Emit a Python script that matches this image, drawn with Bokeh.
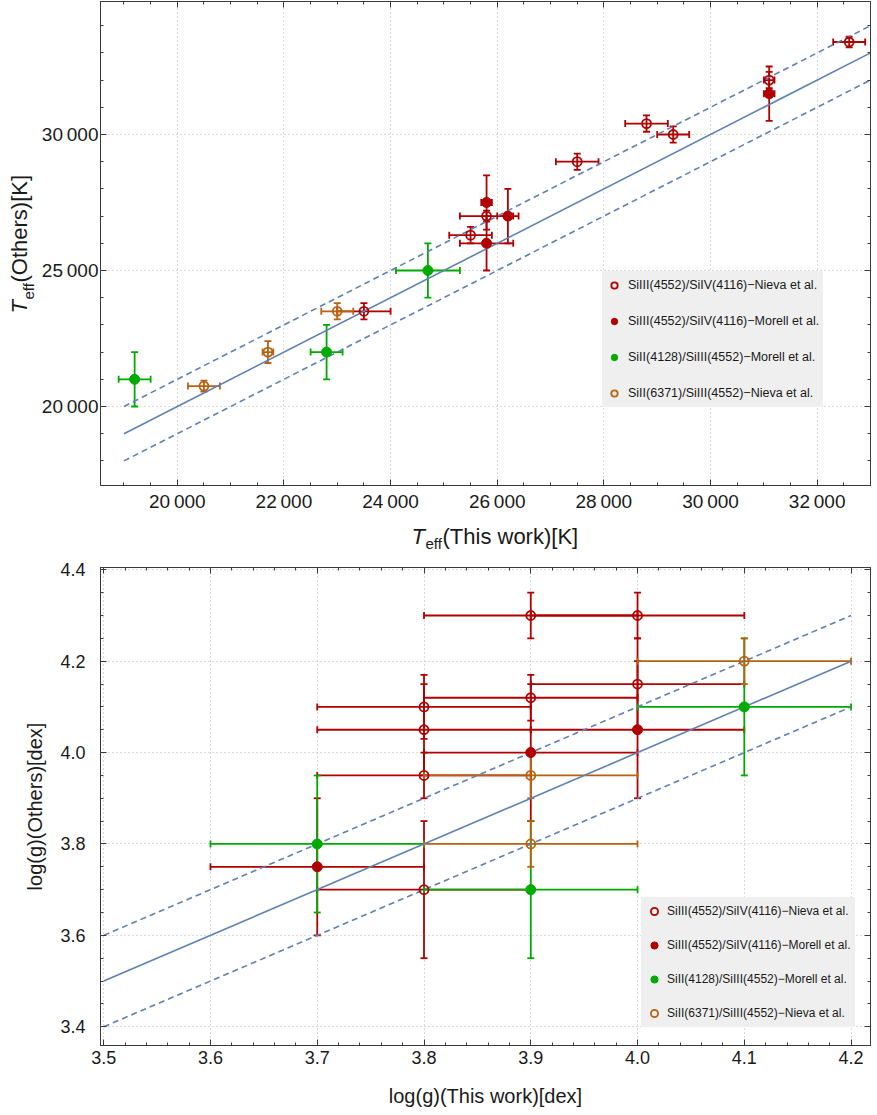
import numpy as np
from bokeh.plotting import figure
from bokeh.models import (Range1d, FixedTicker, LinearAxis, Whisker, TeeHead,
                          ColumnDataSource, Legend, LegendItem, CustomLabelingPolicy)
from bokeh.layouts import column, row
from bokeh.core.properties import value
from bokeh.embed import file_html
from bokeh.resources import INLINE

FONT = "Liberation Sans"

# ---------------- series labels & colours ----------------
series_labels = ["SiIII(4552)/SiIV(4116)\u2212Nieva et al.",
                 "SiIII(4552)/SiIV(4116)\u2212Morell et al.",
                 "SiII(4128)/SiIII(4552)\u2212Morell et al.",
                 "SiII(6371)/SiIII(4552)\u2212Nieva et al."]
series_colors = ["#b00000", "#b00000", "#00aa00", "#b8620f"]
series_open = [True, False, False, True]

# ---------------- top panel: Teff ----------------
teff_x = [
    [23500, 25500, 25800, 27500, 28800, 29300, 31100, 32600],
    [25800, 25800, 26200, 31100],
    [19200, 22800, 24700],
    [20500, 21700, 23000],
]
teff_xerr = [
    [500, 400, 500, 400, 400, 300, 100, 300],
    [500, 100, 200, 100],
    [300, 300, 600],
    [300, 100, 300],
]
teff_y = [
    [23500, 26300, 27000, 29000, 30400, 30000, 32000, 33400],
    [26000, 27500, 27000, 31500],
    [21000, 22000, 25000],
    [20750, 22000, 23500],
]
teff_yerr = [
    [300, 300, 200, 300, 300, 300, 300, 200],
    [1000, 1000, 1000, 1000],
    [1000, 1000, 1000],
    [200, 400, 300],
]
teff_diag_x = [19000, 33000]
teff_band = 1000

teff_xticks = [20000, 22000, 24000, 26000, 28000, 30000, 32000]
teff_xlabels = ["20\u2009000", "22\u2009000", "24\u2009000", "26\u2009000",
                "28\u2009000", "30\u2009000", "32\u2009000"]
teff_yticks = [20000, 25000, 30000]
teff_ylabels = ["20\u2009000", "25\u2009000", "30\u2009000"]
teff_xminor = list(range(18500, 33001, 500))
teff_yminor = list(range(18000, 34001, 1000))

# axis titles of the top panel: T_eff(This work)[K] and T_eff(Others)[K]
teff_title_main = "T"
teff_title_sub = "eff"
teff_xtitle_rest = "(This work)[K]"
teff_ytitle_rest = "(Others)[K]"

# ---------------- bottom panel: log g ----------------
logg_x = [
    [3.8, 3.8, 3.8, 3.8, 3.9, 3.9, 4.0, 4.0],
    [3.7, 3.9, 4.0],
    [3.7, 3.9, 4.1],
    [3.9, 3.9, 4.1],
]
logg_xerr = [
    [0.1, 0.1, 0.1, 0.1, 0.1, 0.1, 0.1, 0.1],
    [0.1, 0.1, 0.1],
    [0.1, 0.1, 0.1],
    [0.1, 0.1, 0.1],
]
logg_y = [
    [4.10, 4.05, 3.95, 3.70, 4.30, 4.12, 4.30, 4.15],
    [3.75, 4.00, 4.05],
    [3.80, 3.70, 4.10],
    [3.95, 3.80, 4.20],
]
logg_yerr = [
    [0.07, 0.10, 0.05, 0.15, 0.05, 0.05, 0.05, 0.10],
    [0.15, 0.15, 0.15],
    [0.15, 0.15, 0.15],
    [0.05, 0.05, 0.05],
]
logg_diag_x = [3.5, 4.2]
logg_band = 0.1

logg_xticks = [3.5, 3.6, 3.7, 3.8, 3.9, 4.0, 4.1, 4.2]
logg_xlabels = ["3.5", "3.6", "3.7", "3.8", "3.9", "4.0", "4.1", "4.2"]
logg_yticks = [3.4, 3.6, 3.8, 4.0, 4.2, 4.4]
logg_ylabels = ["3.4", "3.6", "3.8", "4.0", "4.2", "4.4"]
logg_xminor = [round(3.5 + 0.02 * i, 2) for i in range(36)]
logg_yminor = [round(3.35 + 0.05 * i, 2) for i in range(22)]
logg_xtitle = "log(g)(This work)[dex]"
logg_ytitle = "log(g)(Others)[dex]"

FRAME = "#3a3a3a"
LINE_BLUE = "#5e81b5"
TXT = "#1a1a1a"

NO_LABELS = CustomLabelingPolicy(code="""
try {
  for (const i of [...indices.ones()]) { indices.unset(i) }
  return indices
} catch (e) {
  return {ones: () => []}
}
""")


def style_axes(p, xt, xlab, xm, yt, ylab, ym, tick_font, ystandoff):
    xa, ya = p.below[0], p.left[0]
    xa.ticker = FixedTicker(ticks=xt, minor_ticks=xm)
    ya.ticker = FixedTicker(ticks=yt, minor_ticks=ym)
    xa.major_label_overrides = dict(zip(xt, xlab))
    ya.major_label_overrides = dict(zip(yt, ylab))
    for ax in (xa, ya):
        ax.axis_line_color = FRAME
        ax.major_tick_line_color = FRAME
        ax.minor_tick_line_color = FRAME
        ax.major_tick_in = 6
        ax.major_tick_out = 0
        ax.minor_tick_in = 3
        ax.minor_tick_out = 0
        ax.major_label_text_font = FONT
        ax.major_label_text_font_size = tick_font
        ax.major_label_text_color = TXT
        ax.axis_label_text_font = FONT
        ax.axis_label_text_font_style = "normal"
        ax.axis_label_text_color = TXT
    xa.major_label_standoff = 5
    ya.major_label_standoff = ystandoff
    p.xgrid.grid_line_color = "#b4b4b4"
    p.ygrid.grid_line_color = "#b4b4b4"
    p.xgrid.grid_line_dash = "1 3"
    p.ygrid.grid_line_dash = "1 3"
    for loc, tk, mn in (("above", xt, xm), ("right", yt, ym)):
        ax = LinearAxis(ticker=FixedTicker(ticks=tk, minor_ticks=mn),
                        major_label_text_font_size="0px", major_label_standoff=0,
                        major_label_policy=NO_LABELS,
                        axis_line_color=FRAME, major_tick_line_color=FRAME,
                        minor_tick_line_color=FRAME, major_tick_in=6, major_tick_out=0,
                        minor_tick_in=3, minor_tick_out=0)
        p.add_layout(ax, loc)
    p.outline_line_color = FRAME
    p.background_fill_color = "white"
    p.border_fill_color = "white"
    return xa, ya


def draw_series(p, xs, xe, ys, ye):
    srcs = []
    for k in range(4):
        c = series_colors[k]
        src = ColumnDataSource(dict(
            x=xs[k], y=ys[k],
            xl=[a - b for a, b in zip(xs[k], xe[k])],
            xu=[a + b for a, b in zip(xs[k], xe[k])],
            yl=[a - b for a, b in zip(ys[k], ye[k])],
            yu=[a + b for a, b in zip(ys[k], ye[k])],
        ))
        for dim, base, lo, hi in (("height", "x", "yl", "yu"), ("width", "y", "xl", "xu")):
            w = Whisker(source=src, base=base, lower=lo, upper=hi, dimension=dim,
                        line_color=c, line_width=1.8,
                        upper_head=TeeHead(size=7, line_color=c, line_width=1.8),
                        lower_head=TeeHead(size=7, line_color=c, line_width=1.8))
            p.add_layout(w)
        srcs.append((k, src))
    return srcs


def draw_markers(p, srcs, open_size, fill_size):
    out = []
    for k, src in srcs:
        c = series_colors[k]
        if series_open[k]:
            r = p.scatter("x", "y", source=src, marker="circle", size=open_size,
                          line_color=c, line_width=1.8, fill_alpha=0)
        else:
            r = p.scatter("x", "y", source=src, marker="circle", size=fill_size,
                          line_color=c, fill_color=c, line_width=1)
        out.append(r)
    return out


def add_legend(p, rends, loc, font, spacing, glyph, standoff):
    items = [LegendItem(label=series_labels[k], renderers=[rends[k]]) for k in range(4)]
    lg = Legend(items=items, location=loc, glyph_width=glyph, glyph_height=glyph,
                label_height=20, spacing=spacing, padding=4, label_standoff=standoff,
                label_text_font=FONT, label_text_font_size=font,
                label_text_color=TXT,
                background_fill_color="#efefef", background_fill_alpha=1.0,
                border_line_alpha=0, margin=0)
    p.add_layout(lg)


def text_figure(w, h, fw, fh, bl=0, br=0, bt=0, bb=0):
    f = figure(width=w, height=h, x_range=Range1d(0, fw), y_range=Range1d(0, fh),
               output_backend="svg", toolbar_location=None,
               min_border_left=bl, min_border_right=br,
               min_border_top=bt, min_border_bottom=bb,
               x_axis_location=None, y_axis_location=None)
    f.outline_line_color = None
    f.grid.visible = False
    f.background_fill_color = "white"
    f.border_fill_color = "white"
    return f


def put_text(f, x, y, txt, size, style="normal", angle=0.0):
    f.text(x=[x], y=[y], text=[txt], text_font=value(FONT),
           text_font_size=value(size), text_font_style=value(style),
           text_color=TXT, text_baseline=value("middle"),
           text_align=value("left"), angle=angle)


# ================= top figure =================
H1 = 515
p1 = figure(width=841, height=H1, x_range=Range1d(18560, 33000),
            y_range=Range1d(17096, 34889), output_backend="svg",
            toolbar_location=None, min_border_left=64, min_border_right=7,
            min_border_top=1, min_border_bottom=30)
style_axes(p1, teff_xticks, teff_xlabels, teff_xminor, teff_yticks, teff_ylabels,
           teff_yminor, "19px", 2)
srcs1 = draw_series(p1, teff_x, teff_xerr, teff_y, teff_yerr)
dx = np.array(teff_diag_x)
p1.line(dx, dx, line_color=LINE_BLUE, line_width=1.6)
p1.line(dx, dx + teff_band, line_color=LINE_BLUE, line_width=1.6, line_dash="6 4")
p1.line(dx, dx - teff_band, line_color=LINE_BLUE, line_width=1.6, line_dash="6 4")
r1 = draw_markers(p1, srcs1, 9, 10)
add_legend(p1, r1, (502, 78), "12.5px", 16, 16, 6)

# vertical title strip at the left of the top panel (same vertical frame as p1)
yl1 = text_figure(36, H1, 36, H1 - 31, bt=1, bb=30)
ang = np.pi / 2
put_text(yl1, 19.2, 172, teff_title_main, "22px", "italic", ang)
put_text(yl1, 28, 186, teff_title_sub, "15px", "normal", ang)
put_text(yl1, 19.2, 203, teff_ytitle_rest, "22px", "normal", ang)

# horizontal title strip below the top panel (same horizontal frame as p1)
XL_H = 40
xl1 = text_figure(877, XL_H, 770, XL_H, bl=100, br=7)
put_text(xl1, 311, 19.5, teff_title_main, "22px", "italic")
put_text(xl1, 325, 12, teff_title_sub, "15px")
put_text(xl1, 342, 19.5, teff_xtitle_rest, "22px")

# ================= bottom figure =================
p2 = figure(width=877, height=558, x_range=Range1d(3.497, 4.2182),
            y_range=Range1d(3.359, 4.405), output_backend="svg",
            toolbar_location=None, min_border_left=100, min_border_right=7,
            min_border_top=12, min_border_bottom=68)
xa2, ya2 = style_axes(p2, logg_xticks, logg_xlabels, logg_xminor, logg_yticks,
                      logg_ylabels, logg_yminor, "18px", 15)
xa2.axis_label = logg_xtitle
ya2.axis_label = logg_ytitle
xa2.axis_label_text_font_size = "20px"
ya2.axis_label_text_font_size = "20px"
xa2.axis_label_standoff = 18
ya2.axis_label_standoff = 11
srcs2 = draw_series(p2, logg_x, logg_xerr, logg_y, logg_yerr)
gx = np.array(logg_diag_x)
p2.line(gx, gx, line_color=LINE_BLUE, line_width=1.6)
p2.line(gx, gx + logg_band, line_color=LINE_BLUE, line_width=1.6, line_dash="6 4")
p2.line(gx, gx - logg_band, line_color=LINE_BLUE, line_width=1.6, line_dash="6 4")
r2 = draw_markers(p2, srcs2, 9, 10)
add_legend(p2, r2, (541, 18), "12px", 14, 18, 4)

layout = column(row(yl1, p1), xl1, p2)
open("out.html", "w").write(file_html(layout, INLINE))
